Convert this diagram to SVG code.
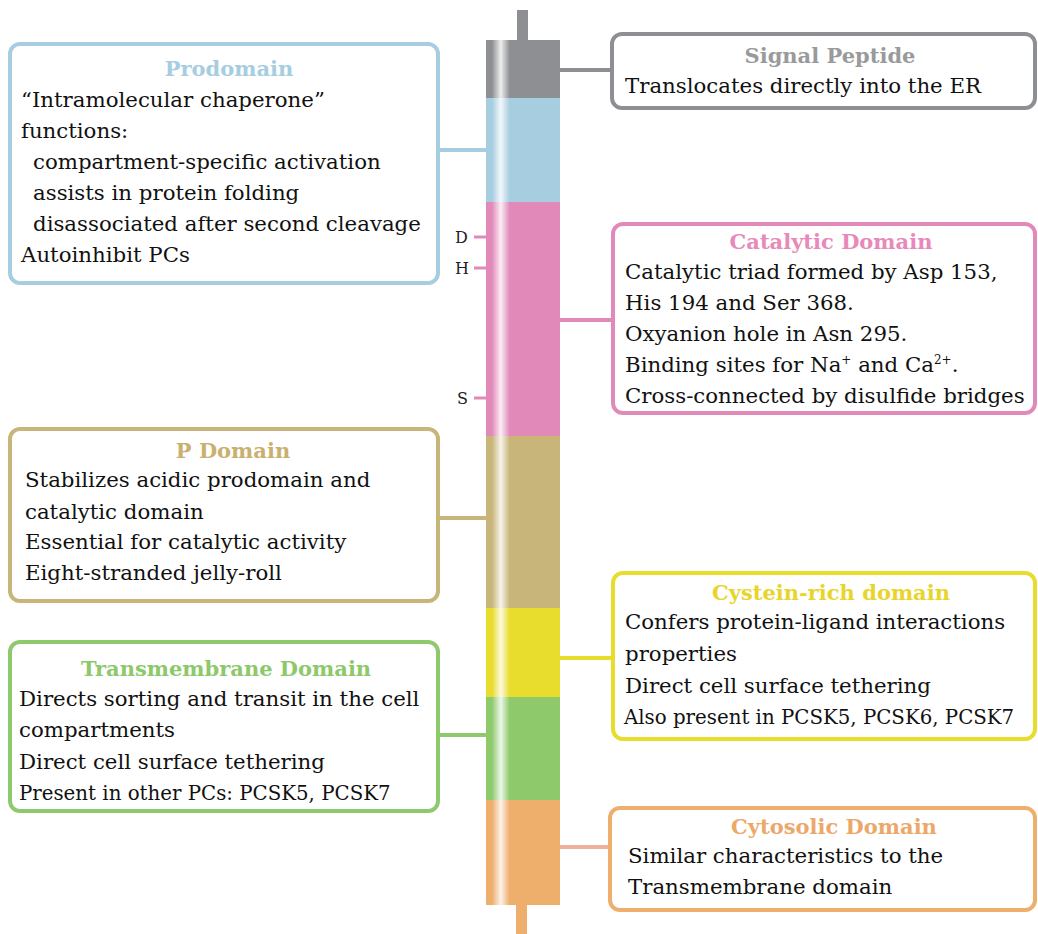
<svg xmlns="http://www.w3.org/2000/svg" width="1038" height="934" viewBox="0 0 1038 934">
<defs>
<linearGradient id="shine" x1="486" y1="0" x2="560" y2="0" gradientUnits="userSpaceOnUse">
<stop offset="0" stop-color="#fff" stop-opacity="0"/>
<stop offset="0.08" stop-color="#fff" stop-opacity="0"/>
<stop offset="0.2" stop-color="#fff" stop-opacity="0.85"/>
<stop offset="0.32" stop-color="#fff" stop-opacity="0"/>
<stop offset="1" stop-color="#fff" stop-opacity="0"/>
</linearGradient>
<style>
.box{fill:#fff;stroke-width:4}
.t{font-family:"DejaVu Serif","Liberation Serif",serif;font-size:21.3px;fill:#111}
.s{font-size:19.8px}
.h{font-family:"DejaVu Serif","Liberation Serif",serif;font-size:21px;font-weight:bold;text-anchor:middle}
.c{fill:none;stroke-width:4}
.m{font-family:"DejaVu Serif","Liberation Serif",serif;font-size:16px;fill:#222}
</style>
</defs>
<rect width="1038" height="934" fill="#fff"/>

<g id="protein">
<rect x="517" y="10" width="11" height="32" fill="#8e8f92"/>
<rect x="516" y="903" width="11" height="31" fill="#eeae6c"/>
<rect x="486" y="40" width="74" height="58" fill="#8e8f92"/>
<rect x="486" y="98" width="74" height="104" fill="#a7cde1"/>
<rect x="486" y="202" width="74" height="234" fill="#e18ab9"/>
<rect x="486" y="436" width="74" height="172" fill="#c8b57a"/>
<rect x="486" y="608" width="74" height="89" fill="#e8dc2d"/>
<rect x="486" y="697" width="74" height="103" fill="#8ec96c"/>
<rect x="486" y="800" width="74" height="105" fill="#eeae6c"/>
<rect x="486" y="40" width="74" height="865" fill="url(#shine)"/>
<g stroke="#e18ab9" stroke-width="3">
<line x1="474" y1="237" x2="486" y2="237"/>
<line x1="474" y1="268" x2="486" y2="268"/>
<line x1="474" y1="398" x2="486" y2="398"/>
</g>
<text class="m" x="455" y="243">D</text>
<text class="m" x="455" y="274">H</text>
<text class="m" x="457" y="404">S</text>
</g>

<g id="connectors">
<line class="c" stroke="#8e8f92" x1="560" y1="70" x2="612" y2="70"/>
<line class="c" stroke="#a7cde1" x1="438" y1="150" x2="486" y2="150"/>
<line class="c" stroke="#e18ab9" x1="560" y1="320" x2="613" y2="320"/>
<line class="c" stroke="#c8b57a" x1="438" y1="518" x2="486" y2="518"/>
<line class="c" stroke="#e8dc2d" x1="560" y1="658" x2="613" y2="658"/>
<line class="c" stroke="#8ec96c" x1="438" y1="735" x2="486" y2="735"/>
<line class="c" stroke="#f0b09b" x1="560" y1="847" x2="610" y2="847"/>
</g>

<g id="prodomain">
<rect class="box" x="10" y="44" width="428" height="239" rx="10" stroke="#a6cde0"/>
<text class="h" x="229" y="76" fill="#a6cde0">Prodomain</text>
<text class="t" x="21" y="107">“Intramolecular chaperone”</text>
<text class="t" x="21" y="138">functions:</text>
<text class="t" x="33" y="169">compartment-specific activation</text>
<text class="t" x="33" y="200">assists  in protein folding</text>
<text class="t" x="33" y="231">disassociated after second cleavage</text>
<text class="t" x="21" y="262">Autoinhibit PCs</text>
</g>

<g id="signal">
<rect class="box" x="612" y="34" width="423" height="74" rx="10" stroke="#8e8f92"/>
<text class="h" x="830" y="63" fill="#999a9c">Signal Peptide</text>
<text class="t" x="625" y="93">Translocates directly into the ER</text>
</g>

<g id="catalytic">
<rect class="box" x="613" y="224" width="422" height="189" rx="10" stroke="#e18ab9"/>
<text class="h" x="831" y="249" fill="#e78ab9">Catalytic Domain</text>
<text class="t" x="625" y="279">Catalytic triad formed by Asp 153,</text>
<text class="t" x="625" y="310">His 194 and Ser 368.</text>
<text class="t" x="625" y="341">Oxyanion hole in Asn 295.</text>
<text class="t" x="625" y="372">Binding sites for Na<tspan font-size="12" dy="-8">+</tspan><tspan dy="8"> and Ca</tspan><tspan font-size="12" dy="-8">2+</tspan><tspan dy="8">.</tspan></text>
<text class="t" x="625" y="403">Cross-connected by disulfide bridges</text>
</g>

<g id="pdomain">
<rect class="box" x="10" y="429" width="428" height="172" rx="10" stroke="#c8b57a"/>
<text class="h" x="233" y="458" fill="#c9b06f">P Domain</text>
<text class="t" x="25" y="487">Stabilizes acidic prodomain and</text>
<text class="t" x="25" y="519">catalytic domain</text>
<text class="t" x="25" y="549">Essential for catalytic activity</text>
<text class="t" x="25" y="580">Eight-stranded jelly-roll</text>
</g>

<g id="cystein">
<rect class="box" x="613" y="573" width="422" height="166" rx="10" stroke="#e8dc2d"/>
<text class="h" x="831" y="600" fill="#e8d52a">Cystein-rich domain</text>
<text class="t" x="625" y="629">Confers protein-ligand interactions</text>
<text class="t" x="625" y="661">properties</text>
<text class="t" x="625" y="693">Direct cell surface tethering</text>
<text class="t s" x="624" y="724">Also present in PCSK5, PCSK6, PCSK7</text>
</g>

<g id="transmembrane">
<rect class="box" x="10" y="642" width="428" height="169" rx="10" stroke="#8ec96c"/>
<text class="h" x="226" y="676" fill="#8dc86b">Transmembrane Domain</text>
<text class="t" x="19" y="706">Directs sorting and transit in the cell</text>
<text class="t" x="19" y="737">compartments</text>
<text class="t" x="19" y="769">Direct cell surface tethering</text>
<text class="t s" x="19" y="800">Present in other PCs: PCSK5, PCSK7</text>
</g>

<g id="cytosolic">
<rect class="box" x="610" y="808" width="425" height="102" rx="10" stroke="#eeae6c"/>
<text class="h" x="834" y="834" fill="#eca86a">Cytosolic Domain</text>
<text class="t" x="628" y="863">Similar characteristics to the</text>
<text class="t" x="628" y="894">Transmembrane domain</text>
</g>
</svg>
